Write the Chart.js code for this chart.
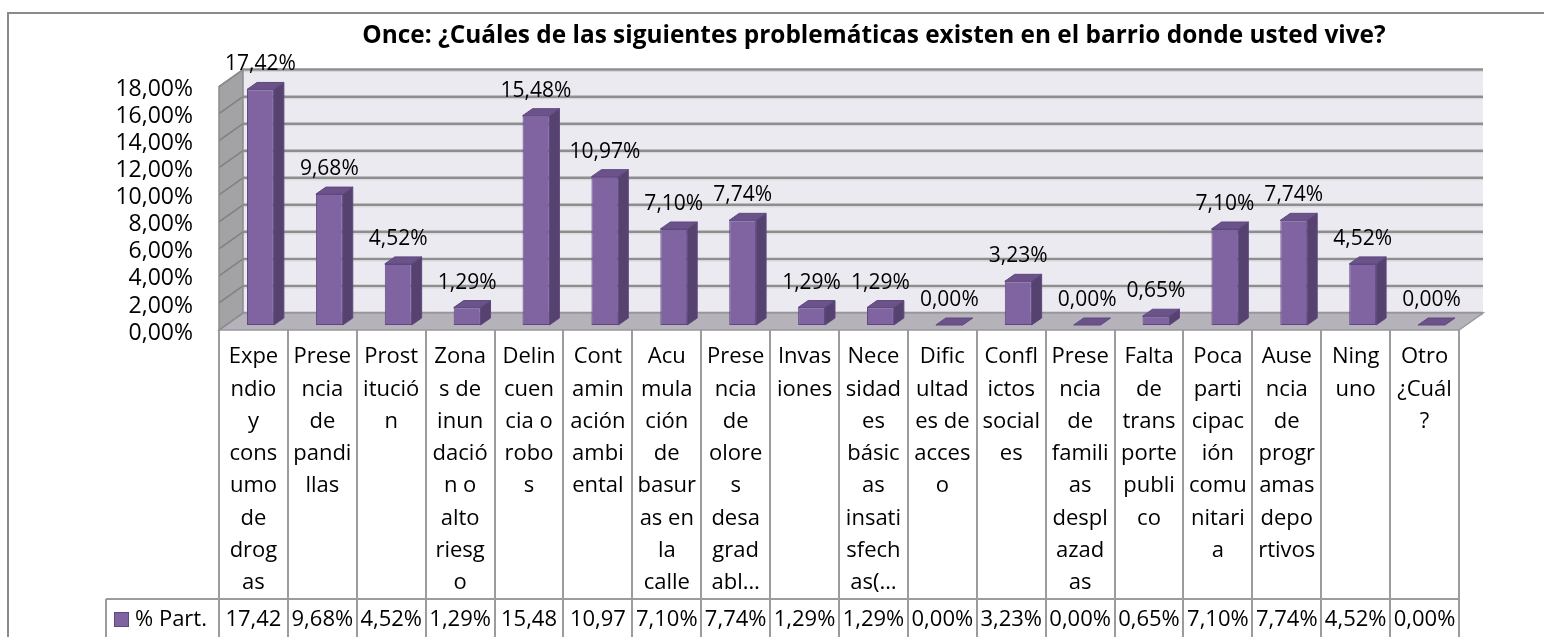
<!DOCTYPE html>
<html>
<head>
<meta charset="utf-8">
<script src="https://cdn.jsdelivr.net/npm/chart.js@4.4.1/dist/chart.umd.min.js"></script>
<style>
  html, body { margin: 0; padding: 0; background: #fff; }
  canvas { display: block; }
</style>
</head>
<body>
<canvas id="chart" width="1544" height="637"></canvas>
<script>
const chartTitle = 'Once: ¿Cuáles de las siguientes problemáticas existen en el barrio donde usted vive?';
const seriesName = '% Part.';

// category names, already broken into the lines shown in the table
const categoryLines = [
  ['Expe', 'ndio', 'y', 'cons', 'umo', 'de', 'drog', 'as'],
  ['Prese', 'ncia', 'de', 'pandi', 'llas'],
  ['Prost', 'itució', 'n'],
  ['Zona', 's de', 'inun', 'dació', 'n o', 'alto', 'riesg', 'o'],
  ['Delin', 'cuen', 'cia o', 'robo', 's'],
  ['Cont', 'amin', 'ación', 'ambi', 'ental'],
  ['Acu', 'mula', 'ción', 'de', 'basur', 'as en', 'la', 'calle'],
  ['Prese', 'ncia', 'de', 'olore', 's', 'desa', 'grad', 'abl…'],
  ['Invas', 'iones'],
  ['Nece', 'sidad', 'es', 'básic', 'as', 'insati', 'sfech', 'as(…'],
  ['Dific', 'ultad', 'es de', 'acces', 'o'],
  ['Confl', 'ictos', 'social', 'es'],
  ['Prese', 'ncia', 'de', 'famili', 'as', 'despl', 'azad', 'as'],
  ['Falta', 'de', 'trans', 'porte', 'publi', 'co'],
  ['Poca', 'parti', 'cipac', 'ión', 'comu', 'nitari', 'a'],
  ['Ause', 'ncia', 'de', 'progr', 'amas', 'depo', 'rtivos'],
  ['Ning', 'uno'],
  ['Otro', '¿Cuál', '?']
];

const values = [17.42, 9.68, 4.52, 1.29, 15.48, 10.97, 7.10, 7.74, 1.29, 1.29, 0.00, 3.23, 0.00, 0.65, 7.10, 7.74, 4.52, 0.00];

const yMin = 0;
const yMax = 18;
const yStep = 2;

const FONT = '"Open Sans", Lato, sans-serif';
const BAR_FRONT = '#8064A2';
const BAR_SIDE = '#56426F';
const BAR_TOP = '#6B5389';
const BAR_EDGE = '#5E4880';

// 3D offsets relative to the plane the bars' front faces sit on
const frontPlane = { x: -7, y: 5 };
const backPlane = { x: 17, y: -12 };
const barDepth = { x: 10, y: -7 };

function pct(v) {
  return v.toFixed(2).replace('.', ',') + '%';
}

function poly(ctx, pts, fill, stroke, lw) {
  ctx.beginPath();
  ctx.moveTo(pts[0][0], pts[0][1]);
  for (let i = 1; i < pts.length; i++) ctx.lineTo(pts[i][0], pts[i][1]);
  ctx.closePath();
  if (fill) { ctx.fillStyle = fill; ctx.fill(); }
  if (stroke) { ctx.strokeStyle = stroke; ctx.lineWidth = lw || 1; ctx.stroke(); }
}

// walls, floor and gridlines behind the bars
const walls3d = {
  id: 'walls3d',
  beforeDatasetsDraw(chart) {
    const { ctx, chartArea: a, scales: { y } } = chart;
    const y0 = y.getPixelForValue(yMin);
    const yT = y.getPixelForValue(yMax);
    const fl = a.left + frontPlane.x, fr = a.right + frontPlane.x;
    const bl = a.left + backPlane.x, br = a.right + backPlane.x;
    ctx.save();
    // back wall
    poly(ctx, [[bl, yT + backPlane.y], [br, yT + backPlane.y], [br, y0 + backPlane.y], [bl, y0 + backPlane.y]], '#ECEAF1');
    // left wall
    poly(ctx, [[fl, yT + frontPlane.y], [bl, yT + backPlane.y], [bl, y0 + backPlane.y], [fl, y0 + frontPlane.y]], '#A3A3A6');
    // gridlines across the back wall and down the left wall
    y.ticks.forEach(t => {
      const py = y.getPixelForValue(t.value);
      ctx.beginPath();
      ctx.moveTo(fl, py + frontPlane.y);
      ctx.lineTo(bl, py + backPlane.y);
      ctx.strokeStyle = '#808083';
      ctx.lineWidth = 1.5;
      ctx.stroke();
      ctx.beginPath();
      ctx.moveTo(bl, py + backPlane.y);
      ctx.lineTo(br, py + backPlane.y);
      ctx.strokeStyle = '#8E8E8E';
      ctx.lineWidth = 2.5;
      ctx.stroke();
      ctx.beginPath();
      ctx.moveTo(bl, py + backPlane.y + 2);
      ctx.lineTo(br, py + backPlane.y + 2);
      ctx.strokeStyle = '#D4D3D8';
      ctx.lineWidth = 1;
      ctx.stroke();
    });
    // floor
    poly(ctx, [[fl, y0 + frontPlane.y], [bl, y0 + backPlane.y], [br, y0 + backPlane.y], [fr, y0 + frontPlane.y]], '#B6B2BA', '#9A979E', 1.5);
    // left wall edges
    poly(ctx, [[fl, yT + frontPlane.y], [bl, yT + backPlane.y], [bl, y0 + backPlane.y], [fl, y0 + frontPlane.y]], null, '#8C8C8F', 1.5);
    ctx.restore();
  },
  afterDatasetsDraw(chart) {
    const { ctx } = chart;
    const meta = chart.getDatasetMeta(0);
    ctx.save();
    meta.data.forEach((bar, i) => {
      const { x, y, base, width } = bar.getProps(['x', 'y', 'base', 'width'], true);
      const l = x - width / 2, r = x + width / 2;
      // side face
      if (base - y > 0.5) {
        poly(ctx, [[r, y], [r + barDepth.x, y + barDepth.y], [r + barDepth.x, base + barDepth.y], [r, base]], BAR_SIDE, BAR_EDGE, 1);
      }
      // top face
      poly(ctx, [[l, y], [l + barDepth.x, y + barDepth.y], [r + barDepth.x, y + barDepth.y], [r, y]], BAR_TOP, BAR_EDGE, 1);
      // value label
      ctx.fillStyle = '#000';
      ctx.font = '21px ' + FONT;
      ctx.textAlign = 'center';
      ctx.textBaseline = 'middle';
      ctx.fillText(pct(values[i]), x, y - 25);
    });
    ctx.restore();
  },
  afterDraw(chart) {
    const { ctx, chartArea: a, scales: { y } } = chart;
    const n = values.length;
    const y0 = y.getPixelForValue(yMin);
    const tl = a.left + frontPlane.x;
    const tr = a.right + frontPlane.x;
    const tt = y0 + frontPlane.y;
    const colW = (tr - tl) / n;
    const rowTop = tt + 269;
    const tb = 700;
    const legendLeft = 106;

    ctx.save();
    // title
    ctx.fillStyle = '#000';
    ctx.font = 'bold 24.4px ' + FONT;
    ctx.textAlign = 'center';
    ctx.textBaseline = 'middle';
    ctx.fillText(chartTitle, 874, 36);

    // data table grid
    ctx.strokeStyle = '#9C9C9C';
    ctx.lineWidth = 2;
    ctx.beginPath();
    for (let i = 0; i <= n; i++) {
      const cx = Math.round(tl + i * colW);
      ctx.moveTo(cx, tt);
      ctx.lineTo(cx, tb);
    }
    ctx.moveTo(legendLeft, rowTop);
    ctx.lineTo(tr, rowTop);
    ctx.moveTo(legendLeft, rowTop);
    ctx.lineTo(legendLeft, tb);
    ctx.stroke();

    // category names
    ctx.font = '22px ' + FONT;
    ctx.textAlign = 'center';
    ctx.textBaseline = 'middle';
    categoryLines.forEach((lines, i) => {
      const cx = tl + (i + 0.5) * colW;
      lines.forEach((s, k) => ctx.fillText(s, cx, tt + 27 + k * 32.3));
    });

    // values, clipped to the cell width the way a spreadsheet does
    values.forEach((v, i) => {
      const cx = tl + (i + 0.5) * colW;
      let s = pct(v);
      while (s.length > 1 && ctx.measureText(s).width > colW - 2) s = s.slice(0, -1);
      ctx.fillText(s, cx, rowTop + 21);
    });

    // legend key
    ctx.fillStyle = BAR_FRONT;
    ctx.fillRect(114, rowTop + 13, 15, 15);
    ctx.strokeStyle = BAR_EDGE;
    ctx.lineWidth = 1;
    ctx.strokeRect(114.5, rowTop + 13.5, 14, 14);
    ctx.fillStyle = '#000';
    ctx.textAlign = 'left';
    ctx.fillText(seriesName, 135, rowTop + 21);

    // outer frame
    ctx.strokeStyle = '#8A8A8A';
    ctx.lineWidth = 2;
    ctx.beginPath();
    ctx.moveTo(8, 700);
    ctx.lineTo(8, 13);
    ctx.lineTo(1600, 13);
    ctx.stroke();
    ctx.restore();
  }
};

const chart = new Chart(document.getElementById('chart'), {
  type: 'bar',
  data: {
    labels: categoryLines,
    datasets: [{
      label: seriesName,
      data: values,
      backgroundColor: BAR_FRONT,
      borderColor: BAR_EDGE,
      borderWidth: ctx => (ctx.raw === 0 ? 0 : 1),
      borderSkipped: false,
      barPercentage: 0.39,
      categoryPercentage: 1
    }]
  },
  options: {
    responsive: false,
    animation: false,
    devicePixelRatio: 1,
    layout: {
      autoPadding: false,
      padding: { left: 0, right: 78, top: 81.6, bottom: 312 }
    },
    plugins: {
      legend: { display: false },
      title: { display: false },
      tooltip: { enabled: false }
    },
    scales: {
      x: { display: false },
      y: {
        min: yMin,
        max: yMax,
        ticks: {
          stepSize: yStep,
          autoSkip: false,
          padding: 33,
          labelOffset: 8,
          color: '#000',
          font: { family: FONT, size: 23 },
          callback: v => pct(v)
        },
        grid: { display: false, drawTicks: false },
        border: { display: false },
        afterFit: scale => { scale.width = 226; }
      }
    }
  },
  plugins: [walls3d]
});
</script>
</body>
</html>
